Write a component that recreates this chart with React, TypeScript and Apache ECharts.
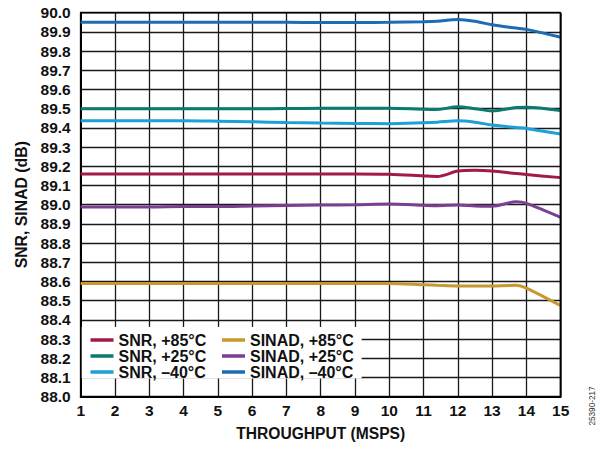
import React, { useEffect, useRef } from "react";
import * as echarts from "echarts";

const throughput = [1, 2, 3, 4, 5, 6, 7, 8, 9, 10, 11, 11.4, 12, 12.5, 13, 13.7, 14, 15];

const snr85 = [89.16, 89.16, 89.16, 89.16, 89.16, 89.16, 89.16, 89.16, 89.16, 89.158, 89.15, 89.147, 89.175, 89.18, 89.176, 89.162, 89.157, 89.141];
const snr25 = [89.5, 89.5, 89.5, 89.5, 89.5, 89.5, 89.501, 89.502, 89.502, 89.502, 89.497, 89.496, 89.51, 89.5, 89.488, 89.506, 89.508, 89.49];
const snrM40 = [89.437, 89.437, 89.437, 89.437, 89.435, 89.432, 89.428, 89.425, 89.423, 89.422, 89.427, 89.43, 89.437, 89.43, 89.415, 89.402, 89.397, 89.368];
const sinad85 = [88.59, 88.59, 88.59, 88.59, 88.59, 88.59, 88.59, 88.59, 88.59, 88.59, 88.583, 88.58, 88.576, 88.576, 88.577, 88.58, 88.566, 88.474];
const sinad25 = [88.988, 88.988, 88.988, 88.99, 88.99, 88.993, 88.996, 88.998, 89.0, 89.003, 88.997, 88.995, 88.998, 88.993, 88.992, 89.015, 89.007, 88.934];
const sinadM40 = [89.95, 89.95, 89.95, 89.95, 89.95, 89.95, 89.95, 89.949, 89.949, 89.95, 89.953, 89.956, 89.965, 89.955, 89.937, 89.92, 89.913, 89.872];

const snrNames = ["SNR, +85°C", "SNR, +25°C", "SNR, –40°C"];
const sinadNames = ["SINAD, +85°C", "SINAD, +25°C", "SINAD, –40°C"];

const FONT = "'Liberation Sans', Arial, sans-serif";

export default function App() {
  const ref = useRef<HTMLDivElement>(null);
  useEffect(() => {
    if (!ref.current) return;
    const chart = echarts.init(ref.current, null, { renderer: "svg" });
    const mk = (name: string, vals: number[], color: string) => ({
      name,
      type: "line",
      data: throughput.map((x, i) => [x, vals[i]]),
      smooth: 0.3,
      showSymbol: false,
      symbol: "none",
      lineStyle: { color, width: 3 },
      itemStyle: { color },
      z: 3,
    });
    const legendBase = {
      orient: "vertical",
      icon: "rect",
      itemWidth: 23,
      itemHeight: 3.5,
      itemGap: 0,
      padding: 0,
      textStyle: { fontFamily: FONT, fontSize: 16, fontWeight: "bold", color: "#111", lineHeight: 15.7 },
      z: 6,
    };
    chart.setOption({
      animation: false,
      backgroundColor: "#fff",
      grid: { left: 80.7, right: 39.3, top: 12.7, bottom: 52.3, containLabel: false },
      xAxis: {
        type: "value",
        min: 1,
        max: 15,
        interval: 1,
        name: "THROUGHPUT (MSPS)",
        nameLocation: "middle",
        nameGap: 29,
        nameTextStyle: { fontFamily: FONT, fontSize: 15.6, fontWeight: "bold", color: "#111" },
        axisLine: { lineStyle: { color: "#000", width: 2 } },
        axisTick: { show: false },
        axisLabel: { fontFamily: FONT, fontSize: 15.5, fontWeight: "bold", color: "#111", margin: 6 },
        splitLine: { show: true, lineStyle: { color: "#1a1a1a", width: 1.3 } },
      },
      yAxis: {
        type: "value",
        min: 88,
        max: 90,
        interval: 0.1,
        name: "SNR, SINAD (dB)",
        nameLocation: "middle",
        nameGap: 50,
        nameTextStyle: { fontFamily: FONT, fontSize: 15.8, fontWeight: "bold", color: "#111" },
        axisLine: { show: true, lineStyle: { color: "#000", width: 2 } },
        axisTick: { show: false },
        axisLabel: {
          fontFamily: FONT,
          fontSize: 15.5,
          fontWeight: "bold",
          color: "#111",
          margin: 10,
          formatter: (v: number) => v.toFixed(1),
        },
        splitLine: { show: true, lineStyle: { color: "#1a1a1a", width: 1.3 } },
      },
      graphic: [
        {
          type: "rect",
          shape: { x: 81.7, y: 327, width: 280, height: 51.5 },
          style: { fill: "#fff" },
          z: 5,
        },
        {
          type: "line",
          shape: { x1: 560.7, y1: 12.7, x2: 560.7, y2: 396.7 },
          style: { stroke: "#000", lineWidth: 2 },
          z: 4,
        },
        {
          type: "line",
          shape: { x1: 80.7, y1: 12.7, x2: 560.7, y2: 12.7 },
          style: { stroke: "#000", lineWidth: 1.5 },
          z: 4,
        },
        {
          type: "text",
          x: 592,
          y: 406,
          rotation: Math.PI / 2,
          style: {
            text: "25390-217",
            fontFamily: FONT,
            fontSize: 8.2,
            fill: "#333",
            align: "center",
            verticalAlign: "middle",
          },
          z: 6,
        },
      ],
      legend: [
        { ...legendBase, data: snrNames, left: 90.5, top: 332 },
        { ...legendBase, data: sinadNames, left: 222, top: 332 },
      ],
      series: [
        mk(snrNames[0], snr85, "#A3194A"),
        mk(snrNames[1], snr25, "#0A7A72"),
        mk(snrNames[2], snrM40, "#1BA1D6"),
        mk(sinadNames[0], sinad85, "#C7982E"),
        mk(sinadNames[1], sinad25, "#7B3E93"),
        mk(sinadNames[2], sinadM40, "#1A6DB3"),
      ],
    });
    return () => chart.dispose();
  }, []);
  return <div ref={ref} style={{ position: "fixed", left: 0, top: 0, width: 600, height: 449 }} />;
}
